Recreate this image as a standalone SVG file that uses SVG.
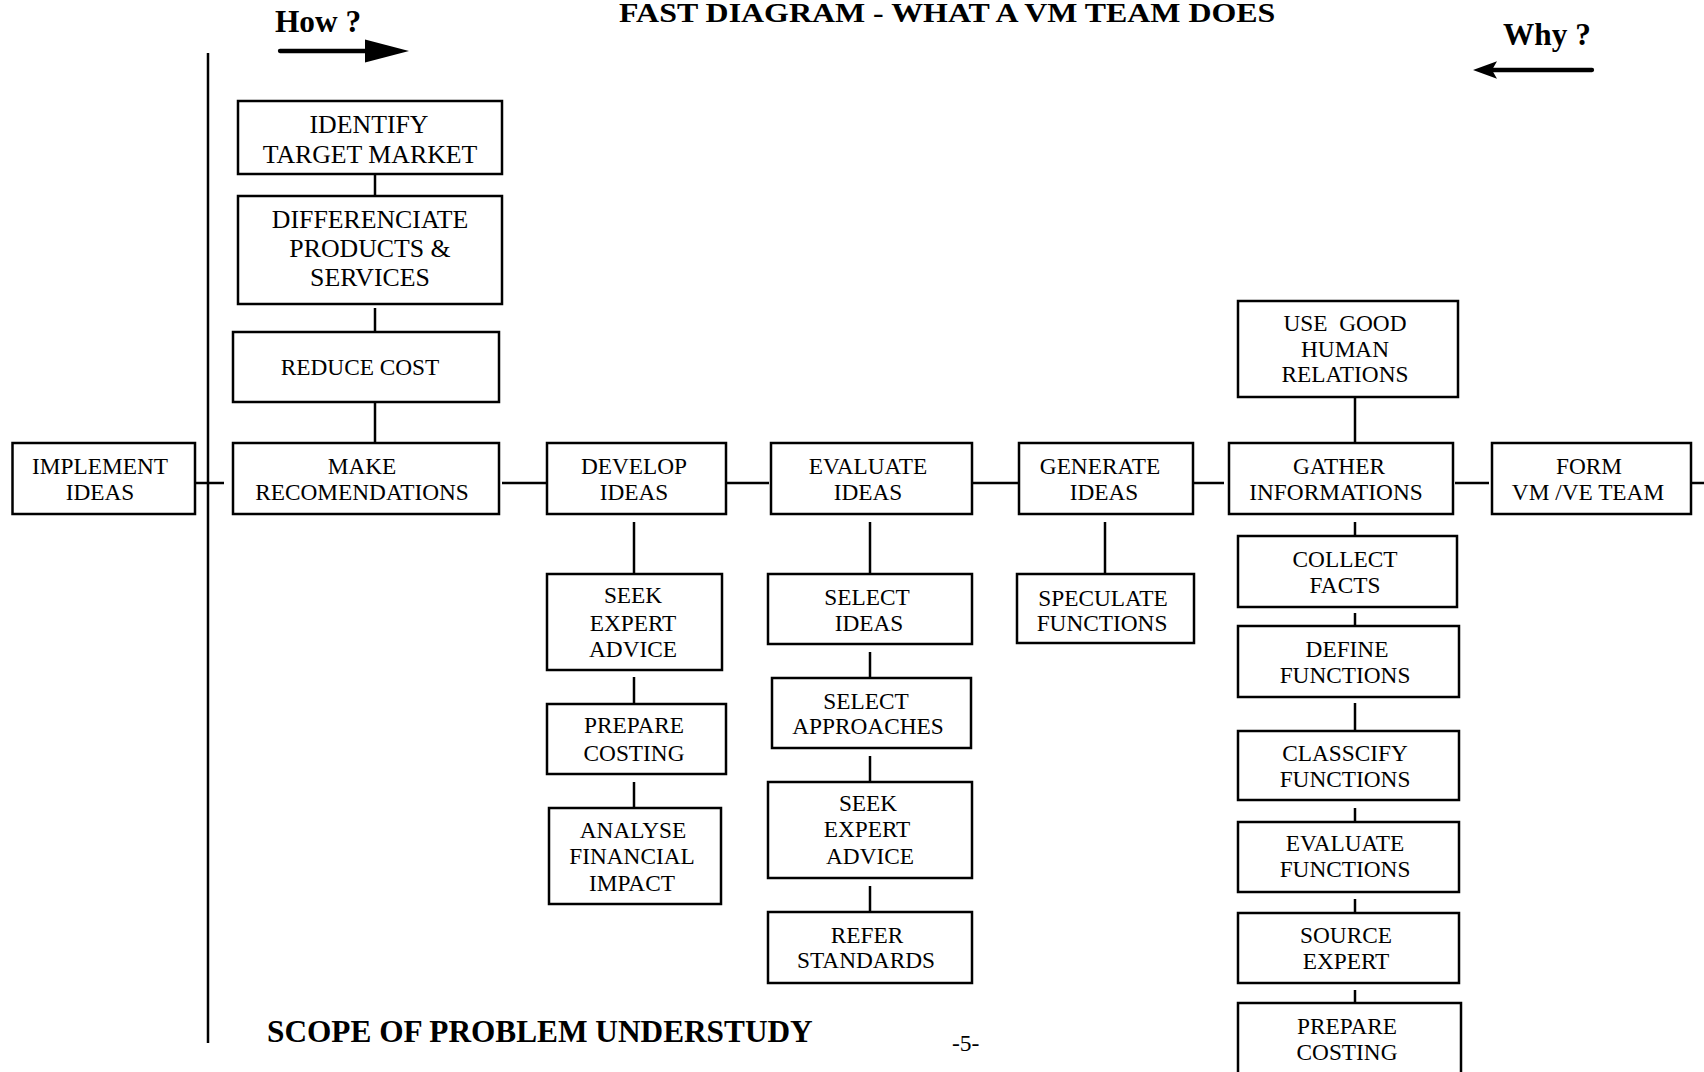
<svg xmlns="http://www.w3.org/2000/svg" width="1704" height="1072" viewBox="0 0 1704 1072">
  <style>
    .box{fill:#fff;stroke:#000;stroke-width:2.5}
    .ln{stroke:#000;stroke-width:2.5;fill:none}
    .t{font-family:"Liberation Serif","Times New Roman",serif;font-size:23.3px;text-anchor:middle;fill:#000}
    .tl{font-size:25.8px}
    .h{font-family:"Liberation Serif","Times New Roman",serif;font-weight:bold;font-size:31.3px;fill:#000}
    .pg{font-family:"Liberation Serif","Times New Roman",serif;font-size:23.5px;fill:#000}
    .arw{stroke:#000;stroke-width:4.3;stroke-linecap:round;fill:none}
  </style>
  <rect width="1704" height="1072" fill="#fff"/>

  <!-- headings -->
  <text class="h" transform="translate(619 22) scale(1.14 1)" style="font-size:28px">FAST DIAGRAM - WHAT A VM TEAM DOES</text>
  <text class="h" x="275" y="32">How ?</text>
  <text class="h" x="1503" y="45">Why ?</text>
  <text class="h" x="267" y="1042">SCOPE OF PROBLEM UNDERSTUDY</text>
  <text class="pg" x="952" y="1051">-5-</text>

  <!-- direction arrows -->
  <g id="how-arrow">
    <line class="arw" x1="280" y1="51" x2="368" y2="51"/>
    <polygon points="365,39.5 409,51 365,62.5" fill="#000"/>
  </g>
  <g id="why-arrow">
    <line class="arw" x1="1592" y1="70" x2="1490" y2="70"/>
    <path d="M1473,70 L1497,61.3 L1492,70 L1497,78.7 Z" fill="#000"/>
  </g>

  <!-- connectors -->
  <g id="connectors" class="ln">
    <line x1="208" y1="53" x2="208" y2="1043"/>
    <!-- critical path -->
    <line x1="193" y1="483" x2="224" y2="483"/>
    <line x1="502" y1="483" x2="546" y2="483"/>
    <line x1="726" y1="483" x2="769" y2="483"/>
    <line x1="972" y1="483" x2="1019" y2="483"/>
    <line x1="1193" y1="483" x2="1224" y2="483"/>
    <line x1="1455" y1="483" x2="1489" y2="483"/>
    <line x1="1691" y1="483" x2="1704" y2="483"/>
    <!-- above MAKE RECOMENDATIONS -->
    <line x1="375" y1="174" x2="375" y2="196"/>
    <line x1="375" y1="308" x2="375" y2="332"/>
    <line x1="375" y1="398" x2="375" y2="443"/>
    <!-- below DEVELOP IDEAS -->
    <line x1="634" y1="522" x2="634" y2="574"/>
    <line x1="634" y1="677" x2="634" y2="704"/>
    <line x1="634" y1="782" x2="634" y2="808"/>
    <!-- below EVALUATE IDEAS -->
    <line x1="870" y1="522" x2="870" y2="574"/>
    <line x1="870" y1="652" x2="870" y2="678"/>
    <line x1="870" y1="756" x2="870" y2="782"/>
    <line x1="870" y1="886" x2="870" y2="912"/>
    <!-- below GENERATE IDEAS -->
    <line x1="1105" y1="522" x2="1105" y2="574"/>
    <!-- GATHER INFORMATIONS column -->
    <line x1="1355" y1="392" x2="1355" y2="443"/>
    <line x1="1355" y1="522" x2="1355" y2="536"/>
    <line x1="1355" y1="613" x2="1355" y2="626"/>
    <line x1="1355" y1="703" x2="1355" y2="731"/>
    <line x1="1355" y1="808" x2="1355" y2="822"/>
    <line x1="1355" y1="899" x2="1355" y2="913"/>
    <line x1="1355" y1="990" x2="1355" y2="1003"/>
  </g>

  <!-- nodes -->
  <g id="implement-ideas">
    <rect class="box" x="12.5" y="443" width="182.5" height="71"/>
    <text class="t" x="100" y="474">IMPLEMENT</text>
    <text class="t" x="100" y="500">IDEAS</text>
  </g>
  <g id="make-recomendations">
    <rect class="box" x="233" y="443" width="266" height="71"/>
    <text class="t" x="362" y="474">MAKE</text>
    <text class="t" x="362" y="500">RECOMENDATIONS</text>
  </g>
  <g id="reduce-cost">
    <rect class="box" x="233" y="332" width="266" height="70"/>
    <text class="t" x="360" y="375">REDUCE COST</text>
  </g>
  <g id="differenciate">
    <rect class="box" x="238" y="196" width="264" height="108"/>
    <text class="t tl" x="370" y="228">DIFFERENCIATE</text>
    <text class="t tl" x="370" y="257">PRODUCTS &amp;</text>
    <text class="t tl" x="370" y="286">SERVICES</text>
  </g>
  <g id="identify-target-market">
    <rect class="box" x="238" y="101" width="264" height="73"/>
    <text class="t tl" x="369" y="133">IDENTIFY</text>
    <text class="t tl" x="370" y="163">TARGET MARKET</text>
  </g>

  <g id="develop-ideas">
    <rect class="box" x="547" y="443" width="179" height="71"/>
    <text class="t" x="634" y="474">DEVELOP</text>
    <text class="t" x="634" y="500">IDEAS</text>
  </g>
  <g id="seek-expert-advice-1">
    <rect class="box" x="547" y="574" width="175" height="96"/>
    <text class="t" x="633" y="603">SEEK</text>
    <text class="t" x="633" y="631">EXPERT</text>
    <text class="t" x="633" y="657">ADVICE</text>
  </g>
  <g id="prepare-costing-1">
    <rect class="box" x="547" y="704" width="179" height="70"/>
    <text class="t" x="634" y="733">PREPARE</text>
    <text class="t" x="634" y="761">COSTING</text>
  </g>
  <g id="analyse-financial-impact">
    <rect class="box" x="549" y="808" width="172" height="96"/>
    <text class="t" x="633" y="838">ANALYSE</text>
    <text class="t" x="632" y="864">FINANCIAL</text>
    <text class="t" x="632" y="891">IMPACT</text>
  </g>

  <g id="evaluate-ideas">
    <rect class="box" x="771" y="443" width="201" height="71"/>
    <text class="t" x="868" y="474">EVALUATE</text>
    <text class="t" x="868" y="500">IDEAS</text>
  </g>
  <g id="select-ideas">
    <rect class="box" x="768" y="574" width="204" height="70"/>
    <text class="t" x="867" y="605">SELECT</text>
    <text class="t" x="869" y="631">IDEAS</text>
  </g>
  <g id="select-approaches">
    <rect class="box" x="772" y="678" width="199" height="70"/>
    <text class="t" x="866" y="709">SELECT</text>
    <text class="t" x="868" y="734">APPROACHES</text>
  </g>
  <g id="seek-expert-advice-2">
    <rect class="box" x="768" y="782" width="204" height="96"/>
    <text class="t" x="868" y="811">SEEK</text>
    <text class="t" x="867" y="837">EXPERT</text>
    <text class="t" x="870" y="864">ADVICE</text>
  </g>
  <g id="refer-standards">
    <rect class="box" x="768" y="912" width="204" height="71"/>
    <text class="t" x="867" y="943">REFER</text>
    <text class="t" x="866" y="968">STANDARDS</text>
  </g>

  <g id="generate-ideas">
    <rect class="box" x="1019" y="443" width="174" height="71"/>
    <text class="t" x="1100" y="474">GENERATE</text>
    <text class="t" x="1104" y="500">IDEAS</text>
  </g>
  <g id="speculate-functions">
    <rect class="box" x="1017" y="574" width="177" height="69"/>
    <text class="t" x="1103" y="606">SPECULATE</text>
    <text class="t" x="1102" y="631">FUNCTIONS</text>
  </g>

  <g id="use-good-human-relations">
    <rect class="box" x="1238" y="301" width="220" height="96"/>
    <text class="t" x="1345" y="331" xml:space="preserve">USE  GOOD</text>
    <text class="t" x="1345" y="357">HUMAN</text>
    <text class="t" x="1345" y="382">RELATIONS</text>
  </g>
  <g id="gather-informations">
    <rect class="box" x="1229" y="443" width="224" height="71"/>
    <text class="t" x="1339" y="474">GATHER</text>
    <text class="t" x="1336" y="500">INFORMATIONS</text>
  </g>
  <g id="collect-facts">
    <rect class="box" x="1238" y="536" width="219" height="71"/>
    <text class="t" x="1345" y="567">COLLECT</text>
    <text class="t" x="1345" y="593">FACTS</text>
  </g>
  <g id="define-functions">
    <rect class="box" x="1238" y="626" width="221" height="71"/>
    <text class="t" x="1347" y="657">DEFINE</text>
    <text class="t" x="1345" y="683">FUNCTIONS</text>
  </g>
  <g id="classcify-functions">
    <rect class="box" x="1238" y="731" width="221" height="69"/>
    <text class="t" x="1345" y="761">CLASSCIFY</text>
    <text class="t" x="1345" y="787">FUNCTIONS</text>
  </g>
  <g id="evaluate-functions">
    <rect class="box" x="1238" y="822" width="221" height="70"/>
    <text class="t" x="1345" y="851">EVALUATE</text>
    <text class="t" x="1345" y="877">FUNCTIONS</text>
  </g>
  <g id="source-expert">
    <rect class="box" x="1238" y="913" width="221" height="70"/>
    <text class="t" x="1346" y="943">SOURCE</text>
    <text class="t" x="1346" y="969">EXPERT</text>
  </g>
  <g id="prepare-costing-2">
    <rect class="box" x="1238" y="1003" width="223" height="90"/>
    <text class="t" x="1347" y="1034">PREPARE</text>
    <text class="t" x="1347" y="1060">COSTING</text>
  </g>

  <g id="form-team">
    <rect class="box" x="1492" y="443" width="199" height="71"/>
    <text class="t" x="1589" y="474">FORM</text>
    <text class="t" x="1588" y="500">VM /VE TEAM</text>
  </g>
</svg>
